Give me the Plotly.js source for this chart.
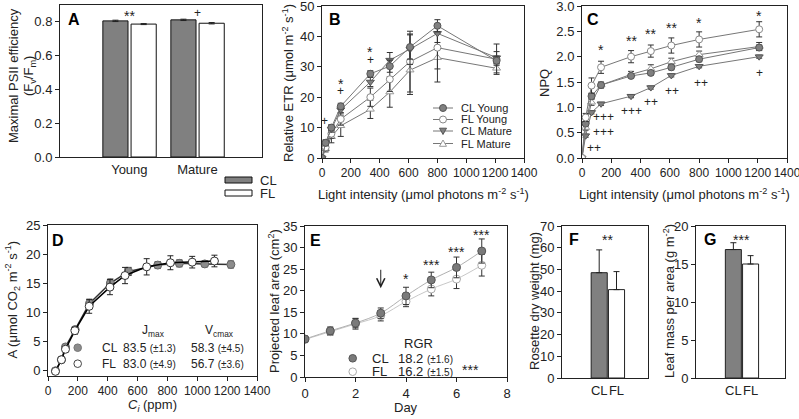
<!DOCTYPE html>
<html>
<head>
<meta charset="utf-8">
<script src="https://cdn.plot.ly/plotly-3.0.1.min.js"></script>
<style>
  html, body { margin: 0; padding: 0; background: #fff; }
  #chart { width: 799px; height: 419px; }
</style>
</head>
<body>
<div id="chart"></div>
<script>
// A: maximal PSII efficiency
const leafAges = ['Young', 'Mature'];
const fvfmCL = [0.806, 0.812];
const fvfmCLErr = [0.004, 0.004];
const fvfmFL = [0.787, 0.792];
const fvfmFLErr = [0.003, 0.004];

// B, C: light response curves
const lightLevels = [0, 25, 65, 130, 335, 470, 610, 800, 1210];
const etrCLYoung = [0, 5, 10, 17, 27.7, 30.2, 36.5, 43.5, 32];
const etrCLYoungErr = [0, 0.5, 1, 1, 1, 2, 4, 2, 1.5];
const etrFLYoung = [0, 3.5, 8, 12.8, 20, 25.9, 31.7, 36.3, 32.5];
const etrFLYoungErr = [0, 1, 1.5, 2, 3, 4, 10, 7, 5];
const etrCLMature = [0, 5, 9.5, 15.9, 25, 32.2, 35.8, 41, 33];
const etrCLMatureErr = [0, 1, 1, 1, 1.5, 2.5, 5, 3, 2];
const etrFLMature = [0, 3, 7, 10.6, 16, 21.7, 28.9, 33, 29.5];
const etrFLMatureErr = [0, 1, 2, 3.5, 3, 5, 8, 8, 1.5];

const npqCLYoung = [0, 0.68, 1.22, 1.44, 1.62, 1.68, 1.79, 1.95, 2.18];
const npqCLYoungErr = [0, 0.04, 0.05, 0.04, 0.04, 0.04, 0.05, 0.05, 0.05];
const npqFLYoung = [0, 0.8, 1.43, 1.79, 2.0, 2.11, 2.22, 2.34, 2.54];
const npqFLYoungErr = [0, 0.08, 0.15, 0.12, 0.12, 0.12, 0.15, 0.15, 0.15];
const npqCLMature = [0, 0.44, 0.9, 1.07, 1.22, 1.39, 1.63, 1.81, 2.0];
const npqCLMatureErr = [0, 0.03, 0.03, 0.03, 0.03, 0.03, 0.03, 0.03, 0.03];
const npqFLMature = [0, 0.6, 1.1, 1.44, 1.65, 1.76, 1.9, 2.04, 2.2];
const npqFLMatureErr = [0, 0.05, 0.06, 0.06, 0.06, 0.08, 0.07, 0.07, 0.08];

// D: A/Ci curves
const ciCL = [50, 90, 117, 182, 278, 418, 540, 735, 880, 1050, 1225];
const aCL = [-0.1, 1.8, 4.0, 7.0, 11.5, 15.0, 17.0, 18.1, 18.4, 18.3, 18.2];
const aCLErr = [0.3, 0.3, 0.4, 0.5, 0.7, 0.7, 0.7, 0.6, 0.6, 0.5, 0.6];
const ciFL = [50, 90, 117, 180, 276, 415, 516, 661, 820, 966, 1115];
const aFL = [-0.2, 1.8, 3.6, 6.8, 11.0, 14.3, 16.3, 17.8, 18.5, 18.6, 18.8];
const aFLErr = [0.3, 0.4, 0.4, 0.6, 1.2, 1.3, 1.4, 1.4, 1.2, 1.0, 1.0];

// E: projected leaf area
const days = [0, 1, 2, 3, 4, 5, 6, 7];
const areaCL = [8.8, 10.7, 12.5, 14.8, 18.8, 22.5, 25.4, 29.2];
const areaCLErr = [0.7, 0.9, 1.1, 1.2, 2.0, 1.8, 2.4, 2.8];
const areaFL = [8.7, 10.5, 12.3, 14.2, 17.5, 20.4, 22.7, 25.9];
const areaFLErr = [0.6, 0.8, 1.2, 1.2, 1.2, 1.6, 2.2, 2.5];

// F, G: biomass
const treatments = ['CL', 'FL'];
const dryWeight = [48.5, 40.7];
const dryWeightErr = [10.5, 8.3];
const leafMassArea = [16.9, 15.0];
const leafMassAreaErr = [0.9, 1.1];

const W = 799, H = 419;
const px = (x) => x / W;
const py = (y) => 1 - y / H;
const ink = '#222';
const grey = '#808080';
const FONT = 'Liberation Sans, Arial, sans-serif';

function axis(x0, x1, anchor, extra) {
  return Object.assign({
    domain: [px(x0), px(x1)], anchor,
    showline: true, mirror: true, linecolor: ink, linewidth: 1,
    ticks: 'outside', ticklen: 4, tickcolor: ink, tickangle: 0,
    ticklabeloverflow: 'allow',
    showgrid: false, zeroline: false, fixedrange: true,
    tickfont: { size: 13, color: ink }
  }, extra);
}
function yaxis(y0, y1, anchor, extra) {
  return Object.assign({
    domain: [py(y1), py(y0)], anchor,
    showline: true, mirror: true, linecolor: ink, linewidth: 1,
    ticks: 'outside', ticklen: 4, tickcolor: ink, tickangle: 0,
    ticklabeloverflow: 'allow',
    showgrid: false, zeroline: false, fixedrange: true,
    tickfont: { size: 13, color: ink }
  }, extra);
}
// light / Ci axes carry wide labels that nearly touch, as in the figure
const wideTicks = { range: [0, 1400], dtick: 200, tickfont: { size: 12, color: ink } };

function errs(arr, color) {
  return { type: 'data', array: arr, visible: true, color: color || ink, thickness: 1, width: 3 };
}
function upperErrs(arr) {
  return { type: 'data', symmetric: false, array: arr, arrayminus: arr.map(() => 0),
           visible: true, color: ink, thickness: 1, width: 3 };
}

const styles = {
  clYoung: { symbol: 'circle', color: grey, line: { color: '#555', width: 1 } },
  flYoung: { symbol: 'circle', color: '#fff', line: { color: '#888', width: 1 } },
  clMature: { symbol: 'triangle-down', color: grey, line: { color: '#555', width: 1 } },
  flMature: { symbol: 'triangle-up', color: '#fff', line: { color: '#999', width: 1 } }
};

function curve(xa, ya, y, e, st, name) {
  return {
    type: 'scatter', mode: 'lines+markers', xaxis: xa, yaxis: ya, name,
    x: lightLevels, y, error_y: errs(e, '#333'),
    line: { color: '#777', width: 1 },
    marker: Object.assign({ size: 7 }, st)
  };
}

const traces = [
  // A
  { type: 'bar', xaxis: 'x', yaxis: 'y', name: 'CL', x: [1, 2], y: fvfmCL,
    offset: -0.39, width: 0.37, error_y: errs(fvfmCLErr),
    marker: { color: grey, line: { color: '#111', width: 1 } } },
  { type: 'bar', xaxis: 'x', yaxis: 'y', name: 'FL', x: [1, 2], y: fvfmFL,
    offset: 0.025, width: 0.37, error_y: errs(fvfmFLErr),
    marker: { color: '#fff', line: { color: '#111', width: 1 } } },

  // B
  curve('x2', 'y2', etrFLMature, etrFLMatureErr, styles.flMature, 'FL Mature'),
  curve('x2', 'y2', etrFLYoung, etrFLYoungErr, styles.flYoung, 'FL Young'),
  curve('x2', 'y2', etrCLMature, etrCLMatureErr, styles.clMature, 'CL Mature'),
  curve('x2', 'y2', etrCLYoung, etrCLYoungErr, styles.clYoung, 'CL Young'),

  // C
  curve('x3', 'y3', npqCLMature, npqCLMatureErr, styles.clMature, 'CL Mature'),
  curve('x3', 'y3', npqFLMature, npqFLMatureErr, styles.flMature, 'FL Mature'),
  curve('x3', 'y3', npqCLYoung, npqCLYoungErr, styles.clYoung, 'CL Young'),
  curve('x3', 'y3', npqFLYoung, npqFLYoungErr, styles.flYoung, 'FL Young'),

  // D
  { type: 'scatter', mode: 'lines+markers', xaxis: 'x4', yaxis: 'y4', name: 'CL',
    x: ciCL, y: aCL, error_y: errs(aCLErr),
    line: { color: '#333', width: 1.5 },
    marker: { size: 8, color: '#8c8c8c', line: { color: '#666', width: 1 } } },
  { type: 'scatter', mode: 'lines+markers', xaxis: 'x4', yaxis: 'y4', name: 'FL',
    x: ciFL, y: aFL, error_y: errs(aFLErr),
    line: { color: '#000', width: 1.5 },
    marker: { size: 8, color: '#fff', line: { color: '#333', width: 1 } } },

  // E
  { type: 'scatter', mode: 'lines+markers', xaxis: 'x5', yaxis: 'y5', name: 'FL',
    x: days, y: areaFL, error_y: errs(areaFLErr, '#333'),
    line: { color: '#c8c8c8', width: 1, shape: 'spline' },
    marker: { size: 8, color: '#fff', line: { color: '#aaa', width: 1 } } },
  { type: 'scatter', mode: 'lines+markers', xaxis: 'x5', yaxis: 'y5', name: 'CL',
    x: days, y: areaCL, error_y: errs(areaCLErr, '#333'),
    line: { color: '#b0b0b0', width: 1, shape: 'spline' },
    marker: { size: 8, color: '#7a7a7a', line: { color: '#555', width: 1 } } },

  // F
  { type: 'bar', xaxis: 'x6', yaxis: 'y6', x: [1, 2], y: dryWeight, width: 0.93,
    error_y: upperErrs(dryWeightErr),
    marker: { color: [grey, '#fff'], line: { color: ink, width: 1 } } },
  // G
  { type: 'bar', xaxis: 'x7', yaxis: 'y7', x: [1, 2], y: leafMassArea, width: 0.93,
    error_y: upperErrs(leafMassAreaErr),
    marker: { color: [grey, '#fff'], line: { color: ink, width: 1 } } }
];

// text helpers
const annotations = [];
function paperText(text, x, y, opts) {
  annotations.push(Object.assign({
    text, x: px(x), y: py(y), xref: 'paper', yref: 'paper', showarrow: false,
    font: { size: 13, color: ink }, xanchor: 'center', yanchor: 'middle'
  }, opts));
}
function dataText(text, xa, ya, x, y, opts) {
  const star = text.indexOf('*') >= 0;
  annotations.push(Object.assign({
    text, x, y, xref: xa, yref: ya, showarrow: false,
    font: { size: star ? 14 : 12, color: ink }, yshift: star ? -3 : 0
  }, opts));
}

// panel letters
[['A', 66, 9], ['B', 327, 9], ['C', 585, 9], ['D', 50, 230], ['E', 308, 230],
 ['F', 567, 229], ['G', 702, 229]].forEach(([t, x, y]) =>
  paperText('<b>' + t + '</b>', x, y, { xanchor: 'left', yanchor: 'top', font: { size: 16, color: '#000' } }));

// axis titles
const rot = { textangle: -90 };
paperText('Maximal PSII efficiency', 13, 76, rot);
paperText('(F<sub>v</sub>/F<sub>m</sub>)', 29, 76, rot);
paperText('Relative ETR (\u03bcmol m<sup>-2</sup> s<sup>-1</sup>)', 288, 83, rot);
paperText('NPQ', 544, 83, rot);
paperText('A (\u03bcmol CO<sub>2</sub> m<sup>-2</sup> s<sup>-1</sup>)', 12.5, 300, rot);
paperText('Projected leaf area (cm<sup>2</sup>)', 274, 301, rot);
paperText('Rosette dry weight (mg)', 534, 301, rot);
paperText('Leaf mass per area (g m<sup>-2</sup>)', 669, 301, rot);
paperText('Light intensity (\u03bcmol photons m<sup>-2</sup> s<sup>-1</sup>)', 423, 194);
paperText('Light intensity (\u03bcmol photons m<sup>-2</sup> s<sup>-1</sup>)', 684, 194);
paperText('<i>C<sub>i</sub></i> (ppm)', 152, 405);
paperText('Day', 406, 407);

// significance marks
dataText('**', 'x', 'y', 1.0, 0.853);
dataText('+', 'x', 'y', 2.0, 0.853);
dataText('+', 'x2', 'y2', 20, 12.2);
dataText('*', 'x2', 'y2', 130, 25.2);
dataText('+', 'x2', 'y2', 130, 21.9);
dataText('*', 'x2', 'y2', 335, 36);
dataText('+', 'x2', 'y2', 335, 32.2);
[['*', 130, 2.2], ['**', 335, 2.37], ['**', 470, 2.5], ['**', 610, 2.62], ['*', 800, 2.73],
 ['*', 1210, 2.87], ['+++', 145, 0.8], ['+++', 145, 0.52], ['++', 80, 0.2], ['+++', 341, 0.92],
 ['++', 468, 1.1], ['++', 618, 1.33], ['++', 810, 1.48], ['+', 1210, 1.68]]
  .forEach(([t, x, y]) => dataText(t, 'x3', 'y3', x, y));
dataText('*', 'x5', 'y5', 4, 23.4);
dataText('***', 'x5', 'y5', 5, 26.7);
dataText('***', 'x5', 'y5', 6, 29.6);
dataText('***', 'x5', 'y5', 7, 33.5);
dataText('**', 'x6', 'y6', 1.5, 65);
dataText('***', 'x7', 'y7', 1.5, 18.6);

// arrow in E
annotations.push({ x: 3, y: 20.6, ax: 3, ay: 25.2, xref: 'x5', yref: 'y5', axref: 'x5', ayref: 'y5',
  showarrow: true, arrowhead: 5, arrowsize: 1.6, arrowwidth: 1, arrowcolor: ink, text: '' });

// legends and fit parameters as text
const shapes = [];
// A legend
shapes.push({ type: 'rect', xref: 'paper', yref: 'paper', x0: px(225), x1: px(252), y0: py(183), y1: py(177),
  fillcolor: grey, line: { color: '#111', width: 1 } });
shapes.push({ type: 'rect', xref: 'paper', yref: 'paper', x0: px(225), x1: px(252), y0: py(196), y1: py(190),
  fillcolor: '#fff', line: { color: '#111', width: 1 } });
paperText('CL', 258, 180, { xanchor: 'left' });
paperText('FL', 258, 193, { xanchor: 'left' });

// B legend
function markShape(st, cx, cy, r) {
  const s = { xref: 'paper', yref: 'paper', fillcolor: st.color, line: st.line };
  if (st.symbol === 'circle') {
    return Object.assign(s, { type: 'circle', x0: px(cx - r), x1: px(cx + r), y0: py(cy + r), y1: py(cy - r) });
  }
  const d = st.symbol === 'triangle-down' ? 1 : -1;
  const p = 'M' + px(cx - r) + ',' + py(cy - d * r * 0.8) + ' L' + px(cx + r) + ',' + py(cy - d * r * 0.8) +
            ' L' + px(cx) + ',' + py(cy + d * r) + ' Z';
  return Object.assign(s, { type: 'path', path: p });
}
[['CL Young', styles.clYoung, 108], ['FL Young', styles.flYoung, 119.5],
 ['CL Mature', styles.clMature, 131], ['FL Mature', styles.flMature, 143.5]].forEach(([t, st, y]) => {
  shapes.push({ type: 'line', xref: 'paper', yref: 'paper', x0: px(433), x1: px(453), y0: py(y), y1: py(y),
    line: { color: '#777', width: 1 } });
  shapes.push(markShape(st, 443, y, 3.5));
  paperText(t, 459, y, { xanchor: 'left', font: { size: 11, color: ink } });
});

// D fit parameters
const small = (s) => '<span style="font-size:10px">' + s + '</span>';
paperText('J<sub>max</sub>', 153, 331, { font: { size: 12, color: ink } });
paperText('V<sub>cmax</sub>', 219, 331, { font: { size: 12, color: ink } });
shapes.push(markShape({ symbol: 'circle', color: '#8c8c8c', line: { color: '#777', width: 1 } }, 77.7, 347.7, 3.8));
shapes.push(markShape({ symbol: 'circle', color: '#fff', line: { color: '#444', width: 1 } }, 77.7, 363.7, 3.8));
paperText('CL', 100, 347.7, { xanchor: 'left', font: { size: 12, color: ink } });
paperText('FL', 100, 363.7, { xanchor: 'left', font: { size: 12, color: ink } });
paperText('83.5 ' + small('(\u00b11.3)'), 121, 347.7, { xanchor: 'left', font: { size: 12, color: ink } });
paperText('83.0 ' + small('(\u00b14.9)'), 121, 363.7, { xanchor: 'left', font: { size: 12, color: ink } });
paperText('58.3 ' + small('(\u00b14.5)'), 189, 347.7, { xanchor: 'left', font: { size: 12, color: ink } });
paperText('56.7 ' + small('(\u00b13.6)'), 189, 363.7, { xanchor: 'left', font: { size: 12, color: ink } });

// E growth rates
paperText('RGR', 418, 343, { font: { size: 13, color: ink } });
shapes.push(markShape({ symbol: 'circle', color: '#7a7a7a', line: { color: '#555', width: 1 } }, 352.7, 358.3, 3.8));
shapes.push(markShape({ symbol: 'circle', color: '#fff', line: { color: '#aaa', width: 1 } }, 352.7, 371.7, 3.8));
paperText('CL', 370, 358.3, { xanchor: 'left' });
paperText('FL', 370, 371.7, { xanchor: 'left' });
paperText('18.2 ' + small('(\u00b11.6)'), 396, 358.3, { xanchor: 'left' });
paperText('16.2 ' + small('(\u00b11.5)'), 396, 371.7, { xanchor: 'left' });
paperText('***', 470, 370, { font: { size: 14, color: ink } });

const layout = {
  width: W, height: H,
  margin: { l: 0, r: 0, t: 0, b: 0 },
  paper_bgcolor: '#fff', plot_bgcolor: '#fff',
  font: { family: FONT, size: 13, color: ink },
  showlegend: false,
  barmode: 'overlay',
  xaxis: axis(60, 262, 'y', { range: [-0.02, 2.95], tickvals: [1, 2], ticktext: leafAges, ticks: '' }),
  yaxis: yaxis(5, 157, 'x', { range: [0, 0.9], tickvals: [0, 0.2, 0.4, 0.6, 0.8], tickformat: '.1f' }),
  xaxis2: axis(322, 524, 'y2', wideTicks),
  yaxis2: yaxis(6, 158, 'x2', { range: [0, 50], dtick: 10 }),
  xaxis3: axis(582, 787, 'y3', wideTicks),
  yaxis3: yaxis(6, 158, 'x3', { range: [0, 3], dtick: 0.5, tickformat: '.1f' }),
  xaxis4: axis(48, 257, 'y4', wideTicks),
  yaxis4: yaxis(225, 376, 'x4', { range: [-1, 25], tickvals: [0, 5, 10, 15, 20, 25] }),
  xaxis5: axis(305, 507, 'y5', { range: [0, 8], dtick: 2 }),
  yaxis5: yaxis(226, 377, 'x5', { range: [0, 35], dtick: 5 }),
  xaxis6: axis(562, 648, 'y6', { range: [-1.15, 3.82], tickvals: [1, 2], ticktext: treatments, ticks: '' }),
  yaxis6: yaxis(226, 378, 'x6', { range: [0, 70], dtick: 10 }),
  xaxis7: axis(696, 785, 'y7', { range: [-1.17, 4.0], tickvals: [1, 2], ticktext: treatments, ticks: '' }),
  yaxis7: yaxis(226, 378, 'x7', { range: [0, 20], dtick: 5 }),
  annotations, shapes
};

Plotly.newPlot('chart', traces, layout, { staticPlot: true, displayModeBar: false });
</script>
</body>
</html>
